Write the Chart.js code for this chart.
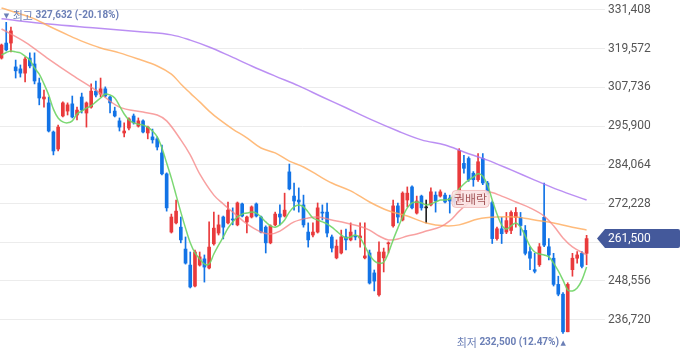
<!DOCTYPE html>
<html><head><meta charset="utf-8">
<script src="https://cdn.jsdelivr.net/npm/chart.js@4.4.1/dist/chart.umd.min.js"></script>
<style>html,body{margin:0;padding:0;background:#fff;}#wrap{width:680px;height:358px;position:relative;}</style>
</head><body><div id="wrap"><canvas id="c" width="680" height="358"></canvas></div>
<script>
const opens = [316700,321300,321300,314000,313400,312100,316700,314900,309100,304200,
 303000,294100,288900,299000,300500,302700,299300,304800,299900,301700,
 306600,305700,307300,304800,300500,297500,293800,295300,299000,295900,
 297500,293800,292600,292000,287700,281300,263500,266300,265000,258300,
 253400,247000,253400,255300,252500,259900,263200,268100,266300,267500,
 265700,272100,266600,268100,272100,268100,265000,260200,265700,269000,
 268400,281900,274500,273300,271800,263500,262600,263500,269600,269600,
 262000,255600,257100,262000,261100,262300,261700,255600,257100,251000,
 244300,255600,259900,265400,271500,267200,273300,277300,269300,274500,
 270900,271800,274800,274500,274800,273900,273900,272500,284500,286000,
 281500,279500,286000,278500,272500,261500,264500,263500,264000,268000,
 268000,264000,257500,252000,253500,268000,259000,255500,247500,244500,
 233000,252000,255500,257000,257000];
const highs = [321000,327632,326200,316100,314600,317000,318300,318300,310600,306900,
 304800,294400,296200,303300,303000,305100,301700,306000,303300,308800,
 309700,310600,307900,305100,301700,298400,296900,298400,299600,298400,
 297800,295900,295000,292600,290100,281600,269000,273300,268100,262000,
 257400,258000,257400,256500,266600,269600,268700,268400,272700,270900,
 272700,272400,268400,271500,272400,268400,265400,265700,269600,271800,
 275400,284300,278500,277000,274800,266300,266300,272400,271800,272400,
 262600,261100,264100,264400,266300,264100,266300,266300,258000,251900,
 260500,258600,260500,273300,272400,275800,277300,277600,274500,274800,
 273300,277000,275800,276400,275400,274800,274800,289000,287000,286500,
 282000,287500,287500,279000,273000,265000,268000,269500,270000,271000,
 269500,265500,259000,257000,260000,278500,261500,257000,250000,245000,
 248000,257000,257500,257500,262500];
const lows = [316400,318900,318600,310600,310900,309400,313700,308800,302400,301700,
 294100,287100,288300,298700,299300,298400,297800,299900,295600,301400,
 304800,304800,304800,299900,298700,294400,292600,294700,296500,295600,
 293800,292000,290700,288600,281000,269900,263200,266000,260200,253700,
 246400,246700,253100,248200,252200,259500,262600,261400,266000,265700,
 265400,268100,263200,267800,268100,263200,257100,259900,265400,265700,
 268100,276400,270200,269600,265000,258900,262000,263200,267200,262000,
 257400,255300,256800,258000,260800,261100,258900,255300,247600,245500,
 243900,251300,257100,265000,266300,266900,271200,270600,269000,270200,
 266300,271500,269600,274200,272400,269300,271700,272500,281500,279000,
 277500,279000,278000,275000,260000,261000,260000,263000,263000,265000,
 262500,256500,252000,251000,253000,259000,255000,247000,244000,232500,
 233000,250000,254000,252500,253500];
const closes = [320700,319200,325000,312800,312100,316400,314300,309700,304500,304800,
 294400,288300,295600,303000,302400,298700,300800,300800,303000,306600,
 305400,307300,305100,303000,299000,295600,294400,298100,296900,297500,
 294100,295600,291700,289500,281300,270900,268100,269900,261100,254000,
 246700,257400,255900,252800,258900,264700,265700,265000,270200,267200,
 272400,268400,268100,271200,268400,263500,260200,265400,269000,268100,
 270200,276700,273000,272700,265700,261100,263500,270900,269300,263200,
 258600,259200,262000,261100,263500,262000,262300,256200,247900,248500,
 257400,257400,260200,271500,268100,275400,275400,270900,273000,270900,
 270900,275800,273000,275800,272700,273000,272700,288500,283000,279500,
 279500,285000,278500,275500,261500,264500,263000,267000,269500,269500,
 265500,257000,255500,251500,259000,259500,256500,247500,244500,233000,
 247500,255500,256500,253000,261500];

// moving average lines
const ma5 = [317600,318400,318900,318600,318300,317300,316100,313700,311800,308800,
 305400,301100,298400,297200,296900,297500,299600,300500,301400,302100,
 303300,304500,305700,305400,304500,302100,299600,297800,296900,296500,
 296200,295600,294400,292600,289200,284600,280000,274800,269600,264700,
 260200,257100,255300,253700,253700,256800,259500,262000,264700,266600,
 268100,269000,269300,269600,269300,268100,266600,265400,265000,265700,
 267200,269600,271200,271800,271200,269600,267800,267200,266600,266000,
 265000,263800,262600,261700,262000,262600,261700,259200,256500,254700,
 254000,254300,257100,261100,264700,268100,270900,272400,272700,272400,
 271800,272100,272700,273300,273300,273600,274800,276700,278200,279400,
 280300,281300,280600,277900,273300,269000,265700,264400,265400,266300,
 265000,262300,259200,257400,256800,256500,255900,254000,251600,248800,
 245800,245500,246400,248800,252800];
const ma20Idx = [0,5,10,15,20,25,30,33,35,38,40,42,45,47,50,52,55,57,59,62,65,67,70,73,76,78,80,82,84,86,88,90,93,95,97,99,101,103,106,109,112,115,117,119,121,124];
const ma20Val = [325600,321600,316400,311500,306900,301700,300200,299300,297500,291700,287100,281300,274800,272100,268400,266000,263500,262900,263800,266600,267800,268100,267200,266300,265200,264100,262300,261100,261400,262300,262900,263800,265100,266900,269900,272400,274500,275800,274500,272700,270900,268400,265400,261700,259000,256500];
const ma60Idx = [0,4,7,10,14,17,21,25,29,33,36,38,40,42,44,46,49,52,55,58,61,64,67,70,74,78,82,86,90,94,97,101,105,109,113,117,121,124];
const ma60Val = [332000,330200,328700,326500,323800,321900,319800,318300,316400,314300,311800,308800,306000,303300,300500,298100,295000,292300,289200,287700,285200,283400,280900,278500,276100,272700,270000,268400,266300,265400,265700,267500,268100,268100,267200,266300,265000,264100];
const ma120Idx = [0,10,20,30,36,40,44,48,53,58,63,68,73,78,84,89,94,98,103,108,113,118,124];
const ma120Val = [328700,327100,325900,324700,323800,322200,320100,317600,314300,311200,308200,304800,301500,298100,294400,291700,290100,288000,285500,282500,279400,276400,273300];

const yTicks = [331408,319572,307736,295900,284064,272228,260392,248556,236720];
const events = [{index:96, text:'권배락'}];

const UP = '#e93a3c', DOWN = '#1273e6', FLAT = '#222222';
const idx = opens.map((_, i) => i);
const candleColors = idx.map(i => closes[i] > opens[i] ? UP : (closes[i] < opens[i] ? DOWN : FLAT));
const fmt = v => Math.round(v).toLocaleString('en-US');
const pts = (xs, ys) => xs.map((x, k) => ({x: x, y: ys[k]}));

const KR = '11px "Noto Sans CJK KR", sans-serif';
const NUM = 'bold 10px Roboto, sans-serif';
const ARROW = '7px "DejaVu Sans", sans-serif';

const overlay = {
  id: 'overlay',
  afterDraw(chart) {
    const {ctx, scales: {x, y}, chartArea} = chart;
    ctx.save();
    // event marker
    events.forEach(ev => {
      const cx = x.getPixelForValue(ev.index);
      const cy = y.getPixelForValue(closes[ev.index]) - 3;
      ctx.font = '12px "Noto Sans CJK KR", sans-serif';
      const w = ctx.measureText(ev.text).width + 4;
      const h = 17, left = cx - 2.5, top = cy - h / 2, r = 4;
      ctx.beginPath();
      ctx.moveTo(left + r, top); ctx.lineTo(left + w - r, top); ctx.quadraticCurveTo(left + w, top, left + w, top + r);
      ctx.lineTo(left + w, top + h - r); ctx.quadraticCurveTo(left + w, top + h, left + w - r, top + h);
      ctx.lineTo(left + r, top + h); ctx.quadraticCurveTo(left, top + h, left, top + h - r);
      ctx.lineTo(left, top + r); ctx.quadraticCurveTo(left, top, left + r, top); ctx.closePath();
      ctx.fillStyle = 'rgba(251,226,226,0.88)'; ctx.fill();
      ctx.strokeStyle = 'rgba(240,190,190,0.9)'; ctx.lineWidth = 1; ctx.stroke();
      ctx.fillStyle = '#a4585a'; ctx.textBaseline = 'middle'; ctx.textAlign = 'left';
      ctx.fillText(ev.text, left + 2, cy + 0.5);
    });
    // high / low labels
    const last = closes[closes.length - 1];
    const hi = Math.max(...highs), lo = Math.min(...lows);
    const hiIdx = highs.indexOf(hi), loIdx = lows.indexOf(lo);
    const hiPct = ((last - hi) / hi * 100).toFixed(2);
    const loPct = ((last - lo) / lo * 100).toFixed(2);
    const lc = '#6b7fb6';
    ctx.fillStyle = lc; ctx.textBaseline = 'middle';
    const hx = x.getPixelForValue(hiIdx), hy = y.getPixelForValue(hi) - 6.5;
    ctx.font = ARROW; ctx.textAlign = 'center'; ctx.fillText('▼', hx + 0.3, hy);
    ctx.textAlign = 'left';
    ctx.font = KR; ctx.fillText('최고', hx + 6.5, hy);
    const w1 = ctx.measureText('최고').width;
    ctx.font = NUM; ctx.fillText(fmt(hi) + ' (' + hiPct + '%)', hx + 6.5 + w1 + 2.5, hy);
    const lx = x.getPixelForValue(loIdx), ly = y.getPixelForValue(lo) + 9.5;
    ctx.font = ARROW; ctx.textAlign = 'center'; ctx.fillText('▲', lx + 0.3, ly);
    ctx.textAlign = 'right';
    ctx.font = NUM;
    const lt = fmt(lo) + ' (' + loPct + '%)';
    ctx.fillText(lt, lx - 4, ly);
    const w2 = ctx.measureText(lt).width;
    ctx.font = KR; ctx.fillText('최저', lx - 4 - w2 - 2.5, ly);
    // last price tag
    const ty = y.getPixelForValue(last);
    const ax = chartArea.right;
    ctx.fillStyle = '#44599b';
    ctx.beginPath();
    ctx.moveTo(ax - 8, ty); ctx.lineTo(ax, ty - 9.5); ctx.lineTo(678, ty - 9.5);
    ctx.quadraticCurveTo(680, ty - 9.5, 680, ty - 7.5); ctx.lineTo(680, ty + 7.5);
    ctx.quadraticCurveTo(680, ty + 9.5, 678, ty + 9.5); ctx.lineTo(ax, ty + 9.5); ctx.closePath();
    ctx.fill();
    ctx.fillStyle = '#ffffff'; ctx.font = '12px Roboto, sans-serif'; ctx.textAlign = 'left'; ctx.textBaseline = 'middle';
    ctx.fillText(fmt(last), ax + 3, ty + 0.5);
    ctx.restore();
  }
};

const lineDs = (label, data, color, order) => ({
  type: 'line', label, data, borderColor: color, borderWidth: 1.5, pointRadius: 0,
  tension: 0.35, fill: false, order
});

new Chart(document.getElementById('c'), {
  type: 'bar',
  data: {
    datasets: [
      lineDs('MA5', ma5.map((v, i) => ({x: i, y: v})), 'rgba(110,212,100,0.9)', 0),
      lineDs('MA20', pts(ma20Idx, ma20Val), 'rgba(245,130,130,0.75)', 0.1),
      lineDs('MA60', pts(ma60Idx, ma60Val), 'rgba(255,170,90,0.8)', 0.2),
      lineDs('MA120', pts(ma120Idx, ma120Val), 'rgba(170,115,240,0.8)', 0.3),
      {type: 'bar', label: 'body', data: idx.map(i => ({x: i, y: [opens[i], closes[i]]})),
        backgroundColor: candleColors, barThickness: 3, minBarLength: 1, grouped: false, order: 1},
      {type: 'bar', label: 'wick', data: idx.map(i => ({x: i, y: [lows[i], highs[i]]})),
        backgroundColor: candleColors, barThickness: 1, grouped: false, order: 2}
    ]
  },
  options: {
    responsive: false, animation: false, events: [],
    layout: {padding: 0},
    plugins: {legend: {display: false}, tooltip: {enabled: false}},
    scales: {
      x: {type: 'linear', min: -0.32, max: 127.9, offset: false, display: false},
      y: {
        position: 'right', min: 224986, max: 334466,
        grid: {color: '#ececec', drawTicks: false},
        border: {display: false},
        ticks: {padding: 3, color: '#555555', font: {family: 'Roboto', size: 12}, callback: v => fmt(v)},
        afterBuildTicks: s => { s.ticks = yTicks.map(v => ({value: v})); },
        afterFit: s => { s.width = 75; s.paddingTop = 0; s.paddingBottom = 0; }
      }
    }
  },
  plugins: [overlay]
});
</script>
</body></html>
